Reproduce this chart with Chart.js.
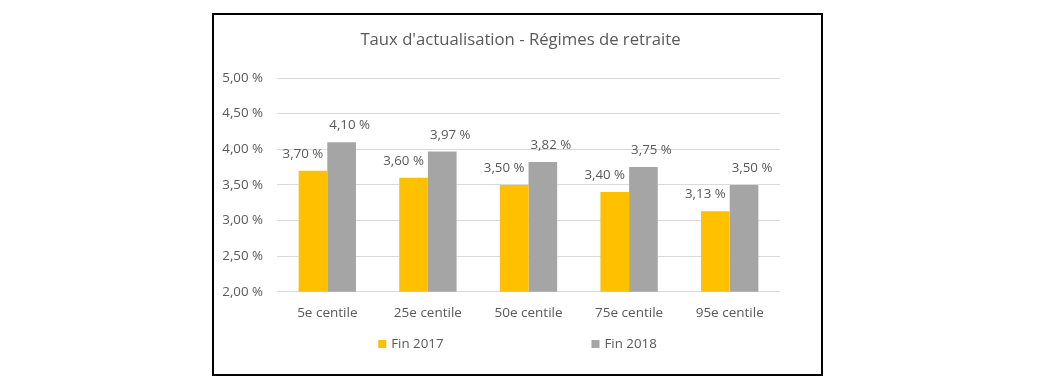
<!DOCTYPE html>
<html>
<head>
<meta charset="utf-8">
<script src="https://cdn.jsdelivr.net/npm/chart.js@4.4.1/dist/chart.umd.min.js"></script>
<style>
  html, body { margin: 0; padding: 0; background: #fff; }
  #frame {
    position: absolute;
    left: 212px;
    top: 13px;
    width: 607px;
    height: 359px;
    border: 2px solid #000;
  }
  #chart { display: block; }
</style>
</head>
<body>
<div id="frame">
  <canvas id="chart" width="607" height="359"></canvas>
</div>
<script>
const categories = ["5e centile", "25e centile", "50e centile", "75e centile", "95e centile"];
const seriesNames = ["Fin 2017", "Fin 2018"];
const fin2017 = [3.70, 3.60, 3.50, 3.40, 3.13];
const fin2018 = [4.10, 3.97, 3.82, 3.75, 3.50];
const yTicks = [2.0, 2.5, 3.0, 3.5, 4.0, 4.5, 5.0];

const FONT = "'Open Sans', 'Liberation Sans', sans-serif";
const TEXT = "#595959";

function pct(v) {
  return v.toFixed(2).replace(".", ",") + " %";
}

// étiquettes de valeur au-dessus des barres (décalées comme dans Excel)
const valueLabels = {
  id: "valueLabels",
  afterDatasetsDraw(chart) {
    const ctx = chart.ctx;
    const shifts = [-10, 8];
    ctx.save();
    ctx.font = "13.3px " + FONT;
    ctx.fillStyle = TEXT;
    ctx.textAlign = "center";
    ctx.textBaseline = "bottom";
    chart.data.datasets.forEach((ds, i) => {
      chart.getDatasetMeta(i).data.forEach((bar, j) => {
        ctx.fillText(pct(ds.data[j]), bar.x + shifts[i], bar.y - 10);
      });
    });
    ctx.restore();
  },
};

// légende dessinée à la main pour avoir l'espacement large d'Excel
const wideLegend = {
  id: "wideLegend",
  afterDraw(chart) {
    const ctx = chart.ctx;
    const gap = 148;
    const box = 8;
    const y = 329;
    ctx.save();
    ctx.font = "13.3px " + FONT;
    ctx.textBaseline = "middle";
    const widths = chart.data.datasets.map((ds) => box + 5 + ctx.measureText(ds.label).width);
    const total = widths.reduce((a, b) => a + b, 0) + gap * (widths.length - 1);
    let x = chart.width / 2 - total / 2;
    chart.data.datasets.forEach((ds, i) => {
      ctx.fillStyle = ds.backgroundColor;
      ctx.fillRect(x, y - box / 2, box, box);
      ctx.fillStyle = TEXT;
      ctx.fillText(ds.label, x + box + 5, y);
      x += widths[i] + gap;
    });
    ctx.restore();
  },
};

new Chart(document.getElementById("chart"), {
  type: "bar",
  data: {
    labels: categories,
    datasets: [
      { label: seriesNames[0], data: fin2017, backgroundColor: "#FFC000" },
      { label: seriesNames[1], data: fin2018, backgroundColor: "#A5A5A5" },
    ],
  },
  options: {
    responsive: false,
    animation: false,
    categoryPercentage: 0.57,
    barPercentage: 1.0,
    layout: { padding: { left: 6, right: 0, top: 0, bottom: 40 } },
    plugins: {
      legend: { display: false },
      tooltip: { enabled: false },
      title: {
        display: true,
        text: "Taux d'actualisation - Régimes de retraite",
        color: TEXT,
        font: { family: FONT, size: 16.7, weight: "normal" },
        padding: { top: 15, bottom: 28 },
      },
    },
    scales: {
      x: {
        grid: { display: false, drawTicks: false },
        border: { display: false },
        ticks: { color: TEXT, font: { family: FONT, size: 13.5 }, padding: 13 },
      },
      y: {
        min: yTicks[0],
        max: yTicks[yTicks.length - 1],
        afterBuildTicks(axis) {
          axis.ticks = yTicks.map((v) => ({ value: v }));
        },
        afterFit(axis) {
          axis.width = 57;
        },
        grid: { color: "#D9D9D9", lineWidth: 1, drawTicks: false },
        border: { display: false },
        ticks: {
          color: TEXT,
          font: { family: FONT, size: 13.3 },
          padding: 14,
          callback: (v) => pct(v),
        },
      },
      // axe vide à droite : garde la marge droite sans décentrer le titre
      yRight: {
        position: "right",
        grid: { display: false },
        border: { display: false },
        ticks: { display: false },
        afterFit(axis) {
          axis.width = 41;
        },
      },
    },
  },
  plugins: [valueLabels, wideLegend],
});
</script>
</body>
</html>
